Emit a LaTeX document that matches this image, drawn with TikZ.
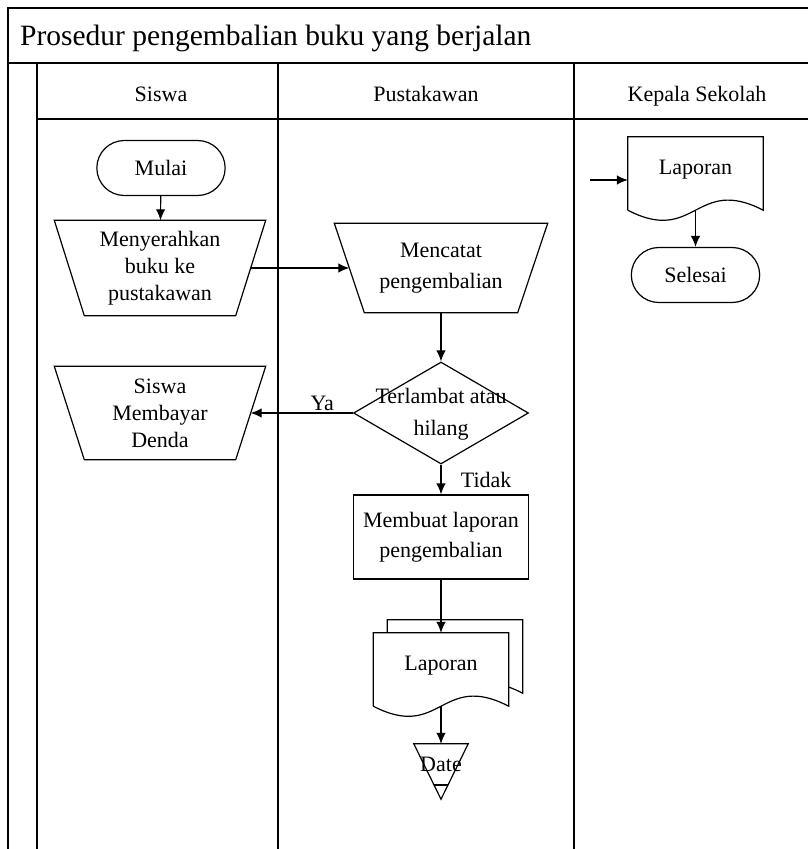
\documentclass[tikz,border=0pt]{standalone}
\usepackage{fontspec}
\setmainfont{Liberation Serif}
\usetikzlibrary{shapes.geometric,shapes.misc,arrows.meta}

\begin{document}
\begin{tikzpicture}[x=1pt,y=-1pt,
  txt/.style={font=\fontsize{22}{27}\selectfont, align=center},
  proses/.style={txt, draw, line width=1.2pt},
  manual/.style={txt, minimum width=211pt, minimum height=95pt, inner sep=0pt},
  terminal/.style={proses, shape=rounded rectangle, minimum width=135pt, minimum height=55pt},
  dok/.style={minimum width=135pt, minimum height=73pt, inner sep=0pt},
  bentuk/.style={line width=1.2pt},
  panah/.style={-{Latex[length=11pt,width=9.5pt]}, line width=1.2pt},
  garis/.style={line width=1.4pt}]
\useasboundingbox (0,0) rectangle (808,849);

% frame and lanes
\draw [garis] (808,8) -- (8,8) -- (8,849);
\draw [garis] (8,63) -- (808,63);
\draw [garis] (37,119) -- (808,119);
\draw [garis] (37,63) -- (37,849);
\draw [garis] (278,63) -- (278,849);
\draw [garis] (574,63) -- (574,849);

\node [txt, font=\fontsize{29.5}{34}\selectfont, anchor=west, inner sep=0pt] (judul) at (20,38) {Prosedur pengembalian buku yang berjalan};
\node [txt, anchor=base] (siswa) at (161,101) {Siswa};
\node [txt, anchor=base] (pustakawan) at (426,101) {Pustakawan};
\node [txt, anchor=base] (kepsek) at (697,101) {Kepala Sekolah};

% Siswa
\node [terminal] (mulai) at (161,168) {Mulai};
\node [manual] (serah) at (160,268) {Menyerahkan\\buku ke\\pustakawan};
\draw [bentuk] (serah.north west) -- (serah.north east) -- ([xshift=-30pt]serah.south east)
  -- ([xshift=30pt]serah.south west) -- cycle;
\node [manual, minimum height=93pt] (denda) at (160,413) {Siswa\\Membayar\\Denda};
\draw [bentuk] (denda.north west) -- (denda.north east) -- ([xshift=-30pt]denda.south east)
  -- ([xshift=30pt]denda.south west) -- cycle;

% Pustakawan
\node [manual, minimum width=213pt, minimum height=89pt, font=\fontsize{22}{31}\selectfont] (catat) at (441,268) {Mencatat\\pengembalian};
\draw [bentuk] (catat.north west) -- (catat.north east) -- ([xshift=-30pt]catat.south east)
  -- ([xshift=30pt]catat.south west) -- cycle;
\node [proses, shape=diamond, minimum width=175pt, minimum height=102pt, inner sep=0pt] (cek) at (441,413) {};
\node [txt, font=\fontsize{22}{32}\selectfont] (cek-teks) at (441,414) {Terlambat atau\\hilang};
\node [proses, minimum width=175pt, minimum height=84pt, font=\fontsize{22}{30}\selectfont] (buat) at (441,537) {Membuat laporan\\pengembalian};

% multi document
\node [dok] (lapor-blk) at (455,656.5) {};
\draw [bentuk, fill=white] (lapor-blk.south west) -- (lapor-blk.north west) -- (lapor-blk.north east) -- (lapor-blk.south east)
  .. controls +(-67.5,-35) and +(67.5,35) .. (lapor-blk.south west);
\node [dok] (lapor) at (441,669.5) {};
\draw [bentuk, fill=white] (lapor.south west) -- (lapor.north west) -- (lapor.north east) -- (lapor.south east)
  .. controls +(-67.5,-35) and +(67.5,35) .. (lapor.south west);
\node [txt] (lapor-teks) at (441,666) {Laporan};

\node [minimum width=54pt, minimum height=55pt, inner sep=0pt] (arsip) at (441,771.5) {};
\draw [bentuk] (arsip.north west) -- (arsip.north east) -- (arsip.south) -- cycle;
\draw [bentuk] (434,785) -- (448,785);
\node [txt] (date) at (441,764) {Date};

% Kepala Sekolah
\node [dok] (lapkep) at (695.5,173.5) {};
\draw [bentuk] (lapkep.south west) -- (lapkep.north west) -- (lapkep.north east) -- (lapkep.south east)
  .. controls +(-67.5,-35) and +(67.5,35) .. (lapkep.south west);
\node [txt] (lapkep-teks) at (695.5,170) {Laporan};
\node [terminal] (selesai) at (695.5,275) {Selesai};
\coordinate (masuk) at (590,180);

% arrows
\draw [panah] (mulai) -- (serah);
\draw [panah] ([xshift=-15pt]serah.east) -- ([xshift=15pt]serah.east -| catat.west);
\draw [panah] (catat.south) -- (cek.north);
\draw [panah] (cek.west) -- node [txt, above, pos=0.3, inner sep=2pt] (ya) {Ya} ([xshift=-15pt]denda.east);
\draw [panah] (cek.south) -- node [txt, right=16pt] (tidak) {Tidak} (buat.north);
\draw [panah] (buat.south) -- (lapor.north);
\draw [panah] (lapor.south) -- (arsip.north);
\draw [panah] (masuk) -- (masuk -| lapkep.west);
\draw [panah] (lapkep.south) -- (selesai.north);
\end{tikzpicture}
\end{document}
